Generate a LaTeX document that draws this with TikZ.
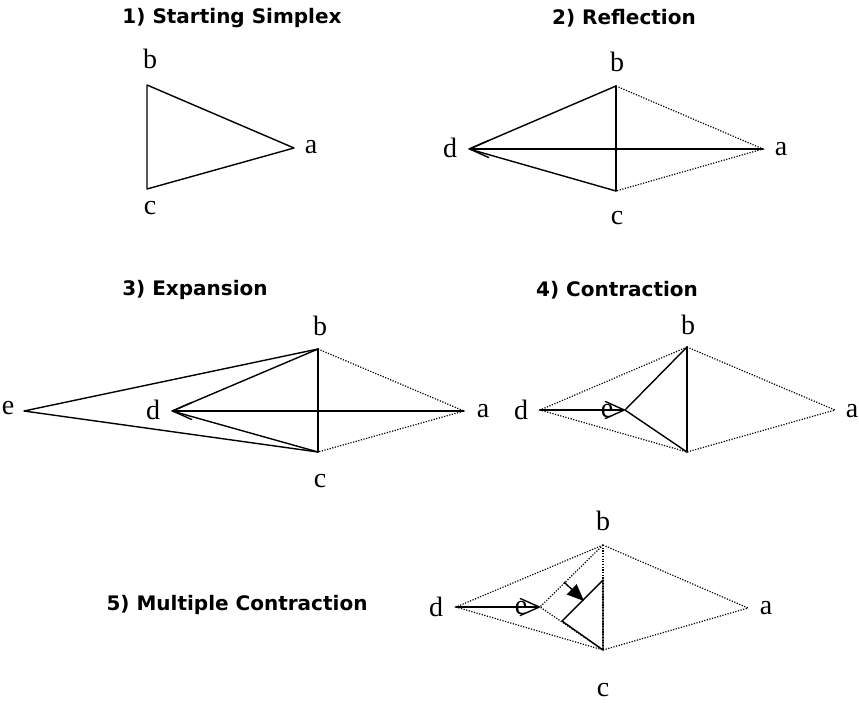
\documentclass[tikz,border=0pt]{standalone}
\usepackage{fontspec}
\setmainfont{Liberation Serif}
\newfontfamily\titlefont{DejaVu Sans}
\usetikzlibrary{arrows.meta}
\pgfdeclarearrow{
  name = VeeBarb,
  parameters = {\the\pgfarrowlength,\the\pgfarrowwidth},
  setup code = {
    \pgfarrowssettipend{0.5\pgflinewidth}
    \pgfarrowssetbackend{-\pgfarrowlength}
    \pgfarrowssetlineend{-0.5\pgflinewidth}
    \pgfarrowssavethe\pgfarrowlength
    \pgfarrowssavethe\pgfarrowwidth
  },
  drawing code = {
    \pgfsetroundjoin\pgfsetroundcap
    \pgfpathmoveto{\pgfpoint{-\pgfarrowlength}{0.5\pgfarrowwidth}}
    \pgfpathlineto{\pgfpointorigin}
    \pgfpathlineto{\pgfpoint{-\pgfarrowlength}{-0.5\pgfarrowwidth}}
    \pgfusepathqstroke
  },
  defaults = {length=19pt, width=17pt}
}
\tikzset{
  solidline/.style={line width=1.4pt, line cap=round, line join=round},
  dotline/.style={line width=1.2pt, dash pattern=on 1.2pt off 1.5pt},
  openarrow/.style={solidline, -{VeeBarb[length=19pt,width=17pt]}},
  fillarrow/.style={line width=1.4pt, -{Triangle[length=17pt,width=14pt]}},
  lbl/.style={inner sep=0pt, font=\fontsize{28}{32}\selectfont},
  ttl/.style={inner sep=0pt, font=\titlefont\bfseries\fontsize{20}{24}\selectfont}
}
\begin{document}
\begin{tikzpicture}[x=1pt,y=-1pt]
\useasboundingbox (0,0) rectangle (859,702);
% ---------- Panel 1 ----------
\node[ttl] (t1) at (232,18) {1) Starting Simplex};
\coordinate (1b) at (147,85);
\coordinate (1c) at (147,189);
\coordinate (1a) at (294,148);
\draw[solidline] (1b) -- (1a) -- (1c) -- cycle;
\node[lbl] (l1b) at (150,59) {b};
\node[lbl] (l1c) at (150,208) {c};
\node[lbl] (l1a) at (311,147) {a};
% ---------- Panel 2 ----------
\node[ttl] (t2) at (624,18) {2) Reflection};
\coordinate (2b) at (616,86);
\coordinate (2c) at (616,191);
\coordinate (2a) at (763,149);
\coordinate (2d) at (469,149);
\draw[dotline] (2b) -- (2a) -- (2c);
\draw[solidline] (2b) -- (2c);
\draw[solidline] (2b) -- (2d) -- (2c);
\draw[openarrow] (2a) -- (2d);
\node[lbl] (l2b) at (617,62) {b};
\node[lbl] (l2c) at (617,218) {c};
\node[lbl] (l2a) at (781,149) {a};
\node[lbl] (l2d) at (450,148) {d};
% ---------- Panel 3 ----------
\node[ttl] (t3) at (195,290) {3) Expansion};
\coordinate (3b) at (318,349);
\coordinate (3c) at (318,452);
\coordinate (3a) at (464,411);
\coordinate (3d) at (172,411);
\coordinate (3e) at (24,411);
\draw[dotline] (3b) -- (3a) -- (3c);
\draw[solidline] (3b) -- (3c);
\draw[solidline] (3b) -- (3d) -- (3c);
\draw[solidline] (3b) -- (3e) -- (3c);
\draw[openarrow] (3a) -- (3d);
\node[lbl] (l3b) at (320,326) {b};
\node[lbl] (l3c) at (320,481) {c};
\node[lbl] (l3a) at (483,411) {a};
\node[lbl] (l3d) at (153,410) {d};
\node[lbl] (l3e) at (8,408) {e};
% ---------- Panel 4 ----------
\node[ttl] (t4) at (617,290) {4) Contraction};
\coordinate (4b) at (687,347);
\coordinate (4c) at (687,452);
\coordinate (4a) at (835,410);
\coordinate (4d) at (540,410);
\coordinate (4e) at (625,410);
\draw[dotline] (4b) -- (4a) -- (4c);
\draw[dotline] (4b) -- (4d) -- (4c);
\node[lbl] (l4e) at (607,411) {e};
\draw[solidline] (4b) -- (4c);
\draw[solidline] (4b) -- (4e) -- (4c);
\draw[openarrow] (4d) -- (4e);
\node[lbl] (l4b) at (688,325) {b};
\node[lbl] (l4a) at (852,411) {a};
\node[lbl] (l4d) at (521,410) {d};
% ---------- Panel 5 ----------
\node[ttl] (t5) at (237,605) {5) Multiple Contraction};
\coordinate (5b) at (603,545);
\coordinate (5c) at (603,650);
\coordinate (5a) at (748,608);
\coordinate (5d) at (456,607);
\coordinate (5e) at (540,607);
\coordinate (5t) at (603,580);
\coordinate (5l) at (562,621);
\coordinate (5s) at (564,582);
\coordinate (5f) at (584,601);
\draw[dotline] (5b) -- (5a) -- (5c);
\draw[dotline] (5b) -- (5d) -- (5c);
\draw[dotline] (5b) -- (5e) -- (5c);
\draw[dotline] (5b) -- (5c);
\node[lbl] (l5e) at (521,608) {e};
\draw[solidline] (5t) -- (5c) -- (5l) -- cycle;
\draw[openarrow] (5d) -- (5e);
\draw[fillarrow] (5s) -- (5f);
\node[lbl] (l5b) at (603,521) {b};
\node[lbl] (l5c) at (603,690) {c};
\node[lbl] (l5a) at (766,608) {a};
\node[lbl] (l5d) at (436,607) {d};
\end{tikzpicture}
\end{document}
